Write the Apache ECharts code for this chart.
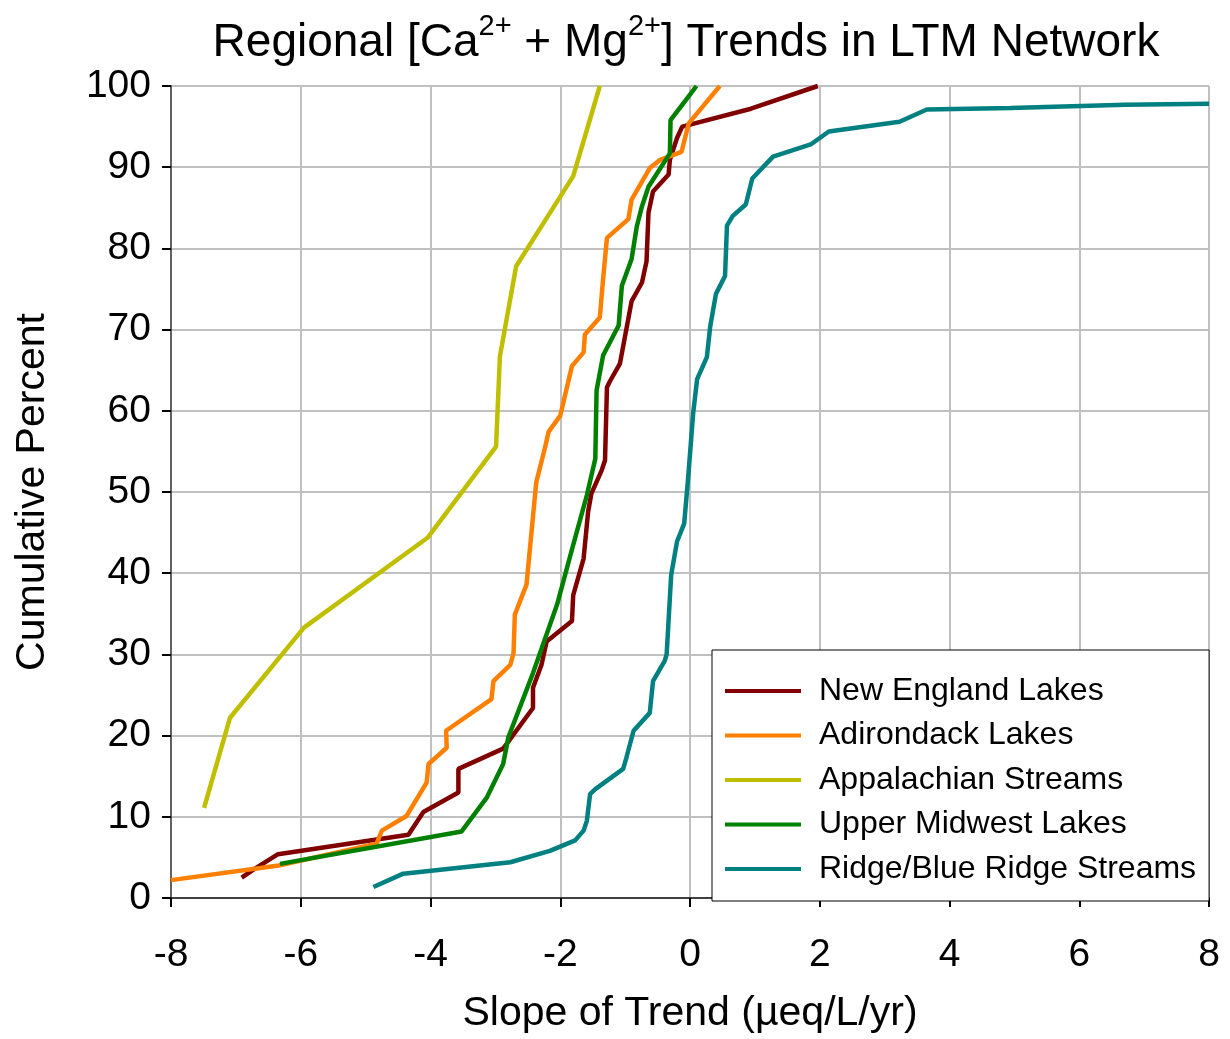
<!DOCTYPE html>
<html>
<head>
<meta charset="utf-8">
<title>Regional [Ca2+ + Mg2+] Trends in LTM Network</title>
<script src="https://cdn.jsdelivr.net/npm/echarts@6/dist/echarts.min.js"></script>
<style>
  html, body { margin: 0; padding: 0; background: #fff; }
  #chart { width: 1230px; height: 1039px; }
</style>
</head>
<body>
<div id="chart"></div>
<script>
// Cumulative distributions of [Ca2+ + Mg2+] trend slopes (µeq/L/yr vs. cumulative %)
const seriesNames = [
  'New England Lakes',
  'Adirondack Lakes',
  'Appalachian Streams',
  'Upper Midwest Lakes',
  'Ridge/Blue Ridge Streams'
];
const seriesColors = ['#800000', '#FF8000', '#BFBF00', '#008000', '#008080'];

const xTicks = [-8, -6, -4, -2, 0, 2, 4, 6, 8];
const yTicks = [0, 10, 20, 30, 40, 50, 60, 70, 80, 90, 100];

const newEngland = [
  [-6.91, 2.5], [-6.73, 3.5], [-6.35, 5.4], [-4.34, 7.8], [-4.11, 10.6],
  [-3.57, 13.0], [-3.57, 15.9], [-2.88, 18.4], [-2.42, 23.4], [-2.42, 25.9],
  [-2.29, 28.7], [-2.21, 31.6], [-1.82, 34.1], [-1.80, 37.3], [-1.64, 41.8],
  [-1.57, 47.6], [-1.52, 49.8], [-1.36, 52.7], [-1.31, 53.9], [-1.28, 62.9],
  [-1.23, 63.7], [-1.08, 65.8], [-0.90, 73.5], [-0.74, 75.8], [-0.67, 78.4],
  [-0.64, 84.4], [-0.57, 87.0], [-0.33, 89.1], [-0.31, 90.9], [-0.20, 93.6],
  [-0.12, 95.0], [0.94, 97.2], [1.97, 100]
];

const adirondack = [
  [-8.0, 2.2], [-6.34, 4.0], [-4.83, 6.7], [-4.75, 8.3], [-4.37, 10.1],
  [-4.06, 14.2], [-4.03, 16.5], [-3.75, 18.5], [-3.76, 20.6], [-3.06, 24.5],
  [-3.03, 26.7], [-2.77, 28.7], [-2.72, 30.2], [-2.70, 34.9], [-2.52, 38.6],
  [-2.37, 51.2], [-2.24, 55.3], [-2.18, 57.4], [-2.00, 59.4], [-1.82, 65.5],
  [-1.64, 67.2], [-1.62, 69.4], [-1.39, 71.5], [-1.34, 76.2], [-1.28, 81.3],
  [-0.95, 83.6], [-0.90, 86.0], [-0.62, 89.9], [-0.46, 90.9], [-0.13, 91.9],
  [-0.02, 95.4], [0.46, 100]
];

const appalachian = [
  [-7.49, 11.1], [-7.09, 22.2], [-5.95, 33.3], [-4.04, 44.4], [-2.99, 55.6],
  [-2.93, 66.7], [-2.68, 77.8], [-1.80, 88.9], [-1.39, 100]
];

const upperMidwest = [
  [-6.32, 4.2], [-3.52, 8.2], [-3.13, 12.4], [-2.88, 16.5], [-2.80, 19.8],
  [-2.42, 27.7], [-2.05, 36.1], [-1.80, 43.5], [-1.59, 49.6], [-1.46, 54.1],
  [-1.44, 62.5], [-1.34, 66.8], [-1.10, 70.5], [-1.05, 75.4], [-0.90, 78.7],
  [-0.82, 82.7], [-0.74, 85.2], [-0.64, 87.6], [-0.31, 91.7], [-0.30, 95.8],
  [-0.10, 97.9], [0.10, 100]
];

const blueRidge = [
  [-4.88, 1.35], [-4.42, 3.0], [-2.77, 4.4], [-2.16, 5.8], [-1.77, 7.1],
  [-1.64, 8.3], [-1.59, 9.5], [-1.54, 12.8], [-1.46, 13.4], [-1.03, 15.9],
  [-0.98, 17.3], [-0.87, 20.6], [-0.62, 22.8], [-0.57, 26.7], [-0.39, 29.2],
  [-0.36, 30.0], [-0.29, 39.8], [-0.20, 43.9], [-0.09, 46.1], [-0.03, 51.6],
  [0.05, 59.8], [0.11, 63.9], [0.26, 66.6], [0.31, 70.3], [0.40, 74.4],
  [0.54, 76.6], [0.57, 82.8], [0.66, 84.0], [0.86, 85.4], [0.96, 88.6],
  [1.28, 91.3], [1.86, 92.8], [2.14, 94.4], [3.23, 95.6], [3.65, 97.1],
  [4.94, 97.3], [6.71, 97.7], [8.0, 97.8]
];

const seriesData = [newEngland, adirondack, appalachian, upperMidwest, blueRidge];

const FONT = '"Liberation Sans", Arial, Helvetica, sans-serif';

const chart = echarts.init(document.getElementById('chart'), null, { renderer: 'canvas' });

chart.setOption({
  animation: false,
  backgroundColor: '#ffffff',
  title: {
    text: '{t|Regional [Ca}{s|2+}{t| + Mg}{s|2+}{t|] Trends in LTM Network}',
    left: 681,
    top: 7,
    textAlign: 'center',
    textStyle: {
      fontWeight: 'normal',
      rich: {
        t: { fontSize: 46, fontFamily: FONT, fontWeight: 'normal', color: '#000', lineHeight: 54, padding: [8, 0, 0, 0] },
        s: { fontSize: 29, fontFamily: FONT, fontWeight: 'normal', color: '#000', lineHeight: 30, verticalAlign: 'top' }
      }
    }
  },
  grid: {
    left: 171,
    right: 21,
    top: 86,
    bottom: 138,
    show: true,
    borderColor: '#000',
    borderWidth: 1,
    backgroundColor: 'transparent'
  },
  legend: {
    orient: 'vertical',
    left: 712,
    top: 650,
    padding: [24, 13, 15, 13],
    itemWidth: 76,
    itemHeight: 4,
    itemGap: 10.5,
    icon: 'rect',
    backgroundColor: '#ffffff',
    borderColor: '#000',
    borderWidth: 1,
    borderRadius: 0,
    selectedMode: false,
    data: seriesNames,
    textStyle: {
      fontSize: 32,
      fontFamily: FONT,
      color: '#000',
      lineHeight: 34,
      padding: [0, 0, 0, 13]
    }
  },
  xAxis: {
    type: 'value',
    min: xTicks[0],
    max: xTicks[xTicks.length - 1],
    interval: 2,
    name: 'Slope of Trend (µeq/L/yr)',
    nameLocation: 'middle',
    nameGap: 95,
    nameTextStyle: { fontSize: 41, fontFamily: FONT, color: '#000' },
    axisLine: { show: true, onZero: false, lineStyle: { color: '#404040', width: 2 } },
    axisTick: { show: true, length: 9, lineStyle: { color: '#000', width: 2 } },
    axisLabel: { fontSize: 39, fontFamily: FONT, color: '#000', margin: 38 },
    splitLine: { show: true, lineStyle: { color: '#C0C0C0', width: 2 } }
  },
  yAxis: {
    type: 'value',
    min: yTicks[0],
    max: yTicks[yTicks.length - 1],
    interval: 10,
    name: 'Cumulative Percent',
    nameLocation: 'middle',
    nameRotate: 90,
    nameGap: 118,
    nameTextStyle: { fontSize: 41, fontFamily: FONT, color: '#000' },
    axisLine: { show: true, onZero: false, lineStyle: { color: '#606060', width: 2 } },
    axisTick: { show: true, length: 9, lineStyle: { color: '#000', width: 2 } },
    axisLabel: { fontSize: 39, fontFamily: FONT, color: '#000', margin: 20 },
    splitLine: { show: true, lineStyle: { color: '#C0C0C0', width: 2 } }
  },
  series: seriesNames.map((name, i) => ({
    name: name,
    type: 'line',
    data: seriesData[i],
    showSymbol: false,
    symbol: 'none',
    clip: true,
    color: seriesColors[i],
    lineStyle: { color: seriesColors[i], width: 4.5 },
    emphasis: { disabled: true },
    z: 3
  }))
});
</script>
</body>
</html>
